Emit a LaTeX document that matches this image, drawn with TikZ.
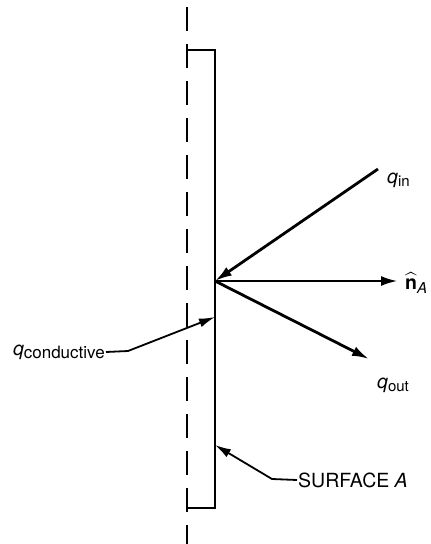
\documentclass[tikz,border=0pt]{standalone}
\usepackage{fontspec}
\usepackage{amsmath}
\setmainfont{TeX Gyre Heros}
\usetikzlibrary{arrows.meta}
\begin{document}
\begin{tikzpicture}[x=1pt,y=-1pt,
  wall/.style={line width=2.2pt},
  vec/.style={line width=2.8pt,-{Latex[length=17pt,width=10pt]}},
  lead/.style={line width=1.8pt,-{Latex[length=16pt,width=9pt]}},
  lbl/.style={inner sep=1pt,font=\fontsize{19.5}{21}\selectfont}]
\useasboundingbox (0,0) rectangle (431,544);
% dashed centre line
\draw[line width=2.8pt,dash pattern=on 24pt off 13pt] (187,7) -- (187,544);
% surface rectangle
\draw[wall] (187,50) -- (215,50) -- (215,508) -- (187,508);
\coordinate (o) at (215,281);
\coordinate (ct) at (215,317);
\coordinate (st) at (215,445);
% labels
\node[lbl,anchor=west] (qin) at (386,180) {\textit{q}\raisebox{-0.35ex}{\fontsize{15}{16}\selectfont in}};
\node[lbl,anchor=west] (nA) at (404,283) {$\widehat{\text{\bfseries n}}$\raisebox{-0.4ex}{\fontsize{15}{16}\selectfont\itshape A}};
\node[lbl,anchor=west] (qout) at (376,385) {\textit{q}\raisebox{-0.35ex}{\fontsize{15}{16}\selectfont out}};
\node[lbl,anchor=east] (qcond) at (106,352) {\textit{q}\raisebox{-0.35ex}{\fontsize{17}{18}\selectfont conductive}};
\node[lbl,anchor=west] (surf) at (297,480) {SURFACE \textit{A}};
% vectors
\draw[vec] (378,169) -- (o);
\draw[vec] (o) -- (398,281);
\draw[vec] (o) -- (369,359);
% leaders
\coordinate (c1) at (128,351);
\coordinate (s1) at (272,479);
\draw[lead] (qcond.east) -- (c1) -- (ct);
\draw[lead] (surf.west) -- (s1) -- (st);
\end{tikzpicture}
\end{document}
